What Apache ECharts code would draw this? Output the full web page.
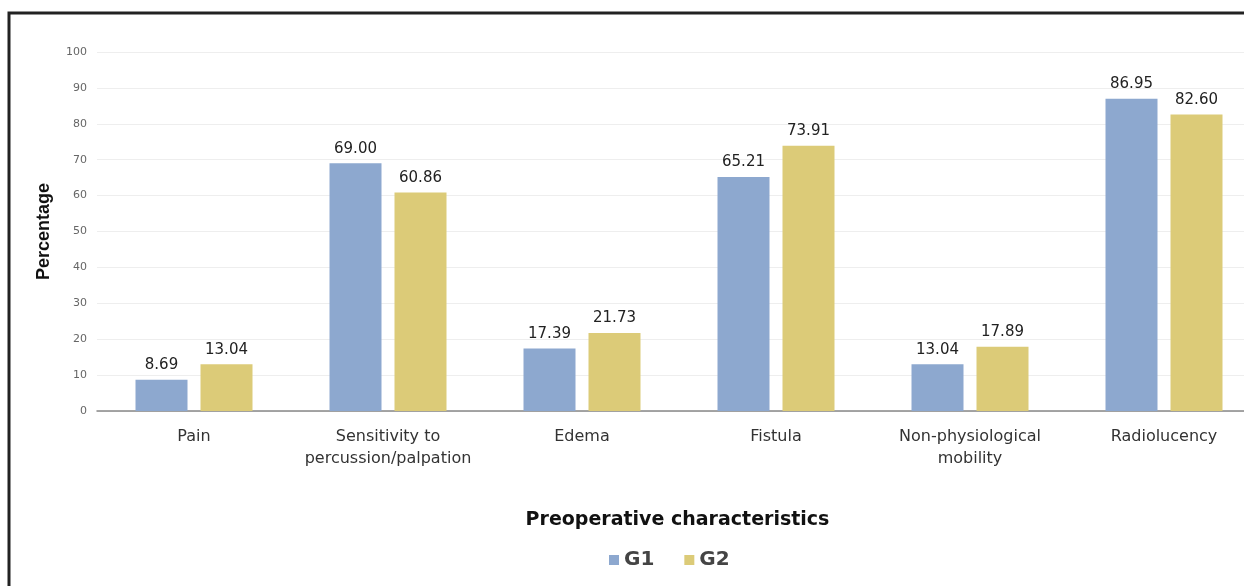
<!DOCTYPE html>
<html><head><meta charset="utf-8">
<script src="https://cdn.jsdelivr.net/npm/echarts@6/dist/echarts.min.js"></script>
<style>html,body{margin:0;padding:0;background:#fff;overflow:hidden}#c{width:1262px;height:586px}</style>
</head><body><div id="c"></div>
<script>
const categories = ['Pain', 'Sensitivity to\npercussion/palpation', 'Edema', 'Fistula', 'Non-physiological\nmobility', 'Radiolucency'];
const g1Values = [8.69, 69.00, 17.39, 65.21, 13.04, 86.95];
const g2Values = [13.04, 60.86, 21.73, 73.91, 17.89, 82.60];
const g1Labels = ['8.69', '69.00', '17.39', '65.21', '13.04', '86.95'];
const g2Labels = ['13.04', '60.86', '21.73', '73.91', '17.89', '82.60'];

const chart = echarts.init(document.getElementById('c'));
const font = '"DejaVu Sans", sans-serif';
function lbl(arr){return {show:true, position:'top', distance:7, color:'#222', fontSize:15, fontFamily:font, formatter:p=>arr[p.dataIndex]};}
chart.setOption({
  animation:false,
  backgroundColor:'#fff',
  graphic:[{type:'rect', shape:{x:9, y:13, width:1300, height:700}, style:{fill:'none', stroke:'#222', lineWidth:3}, silent:true}],
  grid:{left:97, top:52, width:1164, height:359, containLabel:false},
  legend:{top:545, left:604, itemWidth:10, itemHeight:10, itemGap:30, icon:'rect',
    textStyle:{fontSize:20, fontWeight:'bold', color:'#444', fontFamily:font}, data:['G1','G2']},
  xAxis:{type:'category', data:categories,
    name:'Preoperative characteristics', nameLocation:'middle', nameGap:100,
    nameTextStyle:{fontSize:19, fontWeight:'bold', color:'#111', fontFamily:font, padding:[0,0,0,-3]},
    axisLine:{lineStyle:{color:'#888', width:1.5}}, axisTick:{show:false},
    axisLabel:{fontSize:16, color:'#333', fontFamily:font, margin:15, lineHeight:22, interval:0}},
  yAxis:{type:'value', min:0, max:100, interval:10,
    name:'Percentage', nameLocation:'middle', nameGap:44,
    nameTextStyle:{fontSize:18, fontWeight:'bold', color:'#111', fontFamily:'"Liberation Sans", Arial, sans-serif'},
    axisLine:{show:false}, axisTick:{show:false},
    axisLabel:{fontSize:11, color:'#666', fontFamily:font, margin:10},
    splitLine:{lineStyle:{color:'#eeeeee', width:1}}},
  series:[
    {name:'G1', type:'bar', data:g1Values, barWidth:52, barGap:'25%', itemStyle:{color:'#8da8cf'}, label:lbl(g1Labels)},
    {name:'G2', type:'bar', data:g2Values, barWidth:52, barGap:'25%', itemStyle:{color:'#dccb78'}, label:lbl(g2Labels)}
  ]
});
</script></body></html>
